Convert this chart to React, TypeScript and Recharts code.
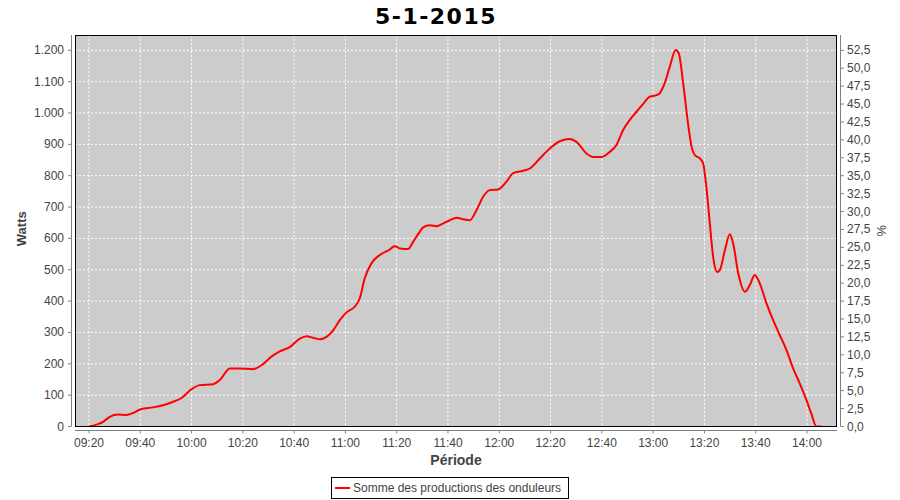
import { LineChart, Line, XAxis, YAxis, CartesianGrid } from "recharts";

// time of each reading, minutes since midnight
const minutes = [
  560, 562.9, 565.5, 568.1, 571.3, 574.6, 577.2, 580.4, 585, 588.9,
  592.8, 596.1, 600, 603.2, 608.4, 611, 614.9, 618.8, 624, 627.9,
  631, 634.4, 638.3, 642.2, 644.8, 647.4, 650, 652.6, 655.2, 657.8,
  660.4, 663.6, 665.6, 667.5, 670.1, 673.4, 677, 679.2, 681.3, 684.4,
  686.4, 688.5, 690.3, 692.9, 695.5, 698, 700.7, 703.3, 705.9, 708.5,
  711.1, 713.7, 716.3, 719.5, 722.8, 725.4, 729.3, 731.9, 735.8, 739.7,
  743.6, 747.5, 750.1, 754, 756.6, 759.9, 763.1, 765.7, 768.3, 770.9,
  773.5, 776.1, 778.7, 781.3, 782.6, 784.5, 786.5, 788.8, 790, 791.7,
  793.6, 795, 796.2, 798.2, 799.5, 800.8, 802.1, 803.4, 805, 806,
  808, 809.9, 811.2, 813.2, 815.8, 817.7, 819.6, 821.6, 824.2, 826.8,
  829.4, 832, 834.6, 837.2, 839.8, 841.7, 843.7, 845.7,
];

const watts = [
  0, 6, 15, 31, 38, 37, 43, 56, 61, 68,
  79, 91, 119, 132, 135, 148, 185, 185, 183, 199,
  222, 240, 253, 280, 288, 283, 278, 286, 307, 339,
  364, 382, 409, 472, 520, 547, 563, 575, 568, 566,
  589, 615, 635, 642, 639, 647, 658, 666, 661, 658,
  690, 733, 754, 756, 781, 808, 816, 823, 855, 887,
  910, 917, 908, 871, 860, 860, 876, 898, 946, 978,
  1004, 1029, 1052, 1057, 1063, 1095, 1148, 1201, 1190, 1095,
  967, 892, 866, 855, 839, 760, 648, 541, 493, 499,
  563, 613, 584, 488, 430, 451, 483, 456, 393, 339,
  291, 244, 185, 137, 84, 41, 0, 0,
];

const timeTicks = [560, 580, 600, 620, 640, 660, 680, 700, 720, 740, 760, 780, 800, 820, 840];
const wattTicks = [0, 100, 200, 300, 400, 500, 600, 700, 800, 900, 1000, 1100, 1200];
const pctTicks = [
  0, 2.5, 5, 7.5, 10, 12.5, 15, 17.5, 20, 22.5, 25, 27.5,
  30, 32.5, 35, 37.5, 40, 42.5, 45, 47.5, 50, 52.5,
];

const seriesName = "Somme des productions des onduleurs";
const title = "5-1-2015";

const data = minutes.map((t, i) => ({ t, w: watts[i] }));

const W = 900;
const H = 500;
const PLOT_L = 75;
const PLOT_R = 837;
const PLOT_T = 35;
const PLOT_B = 426.5;
const WATT_MAX = 1248.8;
const FONT = "'Liberation Sans', Arial, sans-serif";
const TXT = "#444444";
const AXIS = "#808080";

const hhmm = (m: number) => {
  const h = Math.floor(m / 60);
  const mm = Math.round(m - h * 60);
  return `${String(h).padStart(2, "0")}:${String(mm).padStart(2, "0")}`;
};

const LeftTick = (props: any) => {
  const { x, y, payload } = props;
  const label = String(payload.value).replace(/\B(?=(\d{3})+(?!\d))/g, ".");
  return (
    <g>
      <line x1={x - 7} x2={x - 4} y1={y} y2={y} stroke={AXIS} />
      <text x={x - 11} y={y} dy={4} textAnchor="end" fontSize={12} fill={TXT} fontFamily={FONT}>
        {label}
      </text>
    </g>
  );
};

const RightTick = (props: any) => {
  const { x, y, payload } = props;
  const label = Number(payload.value).toFixed(1).replace(".", ",");
  return (
    <g>
      <line x1={x + 4} x2={x + 7} y1={y} y2={y} stroke={AXIS} />
      <text x={x + 10} y={y} dy={4} textAnchor="start" fontSize={12} fill={TXT} fontFamily={FONT}>
        {label}
      </text>
    </g>
  );
};

const BottomTick = (props: any) => {
  const { x, y, payload } = props;
  return (
    <g>
      <line x1={x} x2={x} y1={y + 4} y2={y + 7} stroke={AXIS} />
      <text x={x} y={y + 20} textAnchor="middle" fontSize={12} fill={TXT} fontFamily={FONT}>
        {hhmm(payload.value)}
      </text>
    </g>
  );
};

export default function App() {
  return (
    <div style={{ position: "relative", width: W, height: H, background: "#fff", fontFamily: FONT }}>
      <style>{`body{margin:0}`}</style>
      <div
        style={{
          position: "absolute",
          left: 0,
          top: 4,
          width: 872,
          textAlign: "center",
          fontSize: 22,
          letterSpacing: 1.5,
          fontWeight: "bold",
          fontFamily: "'DejaVu Sans', sans-serif",
          color: "#000",
        }}
      >
        {title}
      </div>

      <div style={{ position: "absolute", left: 0, top: 0 }}>
        <LineChart
          width={W}
          height={H}
          data={data}
          margin={{ top: PLOT_T, right: 0, bottom: 0, left: 0 }}
        >
          <CartesianGrid
            yAxisId="w"
            stroke="#ffffff"
            strokeDasharray="2 2"
            fill="#cccccc"
            fillOpacity={1}
          />
          <XAxis
            dataKey="t"
            type="number"
            domain={[554.54, 851.7]}
            ticks={timeTicks}
            interval={0}
            height={H - PLOT_B}
            tickSize={0}
            tickMargin={0}
            axisLine={false}
            tickLine={false}
            tick={BottomTick}
            allowDataOverflow
          />
          <YAxis
            yAxisId="w"
            domain={[0, WATT_MAX]}
            ticks={wattTicks}
            interval={0}
            width={PLOT_L}
            tickSize={0}
            tickMargin={0}
            axisLine={false}
            tickLine={false}
            tick={LeftTick}
            allowDataOverflow
          />
          <YAxis
            yAxisId="pct"
            orientation="right"
            domain={[0, (WATT_MAX * 52.5) / 1200]}
            ticks={pctTicks}
            interval={0}
            width={W - PLOT_R}
            tickSize={0}
            tickMargin={0}
            axisLine={false}
            tickLine={false}
            tick={RightTick}
            allowDataOverflow
          />
          <Line
            yAxisId="w"
            type="monotone"
            dataKey="w"
            name={seriesName}
            stroke="#ff0000"
            strokeWidth={2}
            dot={false}
            isAnimationActive={false}
          />
        </LineChart>
      </div>

      <svg
        width={W}
        height={H}
        style={{ position: "absolute", left: 0, top: 0, pointerEvents: "none" }}
      >
        <rect
          x={PLOT_L + 0.5}
          y={PLOT_T + 0.5}
          width={PLOT_R - PLOT_L - 1}
          height={PLOT_B - PLOT_T - 0.5}
          fill="none"
          stroke="#000"
        />
        <line x1={PLOT_L - 3.5} x2={PLOT_L - 3.5} y1={PLOT_T} y2={PLOT_B} stroke={AXIS} />
        <line x1={PLOT_R + 3.5} x2={PLOT_R + 3.5} y1={PLOT_T} y2={PLOT_B} stroke={AXIS} />
        <line x1={PLOT_L} x2={PLOT_R} y1={PLOT_B + 4} y2={PLOT_B + 4} stroke={AXIS} />
        <text
          x={0}
          y={0}
          transform={`translate(26, ${(PLOT_T + PLOT_B) / 2 - 2}) rotate(-90)`}
          textAnchor="middle"
          fontSize={13}
          fontWeight="bold"
          fill={TXT}
          fontFamily={FONT}
        >
          Watts
        </text>
        <text
          x={0}
          y={0}
          transform={`translate(877, ${(PLOT_T + PLOT_B) / 2}) rotate(90)`}
          textAnchor="middle"
          fontSize={13}
          fill={TXT}
          fontFamily={FONT}
        >
          %
        </text>
        <text
          x={(PLOT_L + PLOT_R) / 2}
          y={465}
          textAnchor="middle"
          fontSize={14}
          fontWeight="bold"
          fill={TXT}
          fontFamily={FONT}
        >
          Période
        </text>
      </svg>

      <div
        style={{
          position: "absolute",
          left: 331,
          top: 477,
          width: 238,
          height: 22,
          boxSizing: "border-box",
          border: "1px solid #000",
          display: "flex",
          alignItems: "center",
          fontSize: 12,
          color: TXT,
          whiteSpace: "nowrap",
        }}
      >
        <span
          style={{ display: "inline-block", width: 15, height: 2, background: "#ff0000", marginLeft: 3, marginRight: 3 }}
        />
        {seriesName}
      </div>
    </div>
  );
}
